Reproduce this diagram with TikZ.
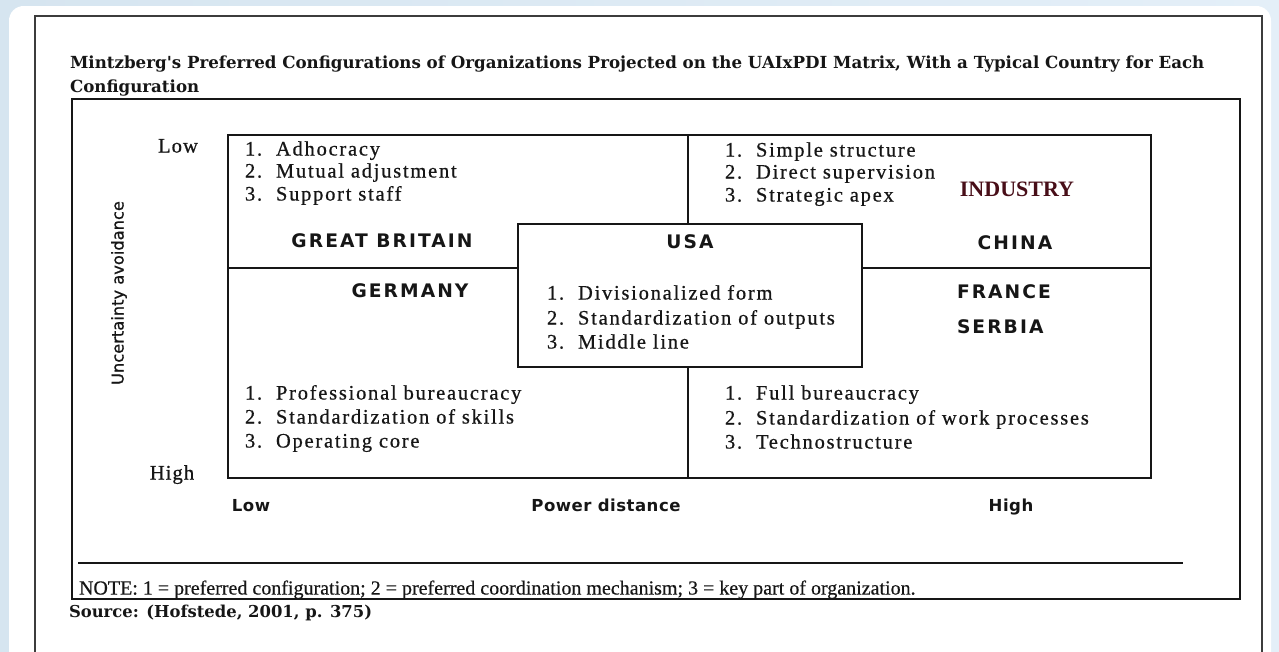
\documentclass[tikz,border=0pt]{standalone}
\usepackage{fontspec}
\setmainfont{Liberation Serif}
\newfontfamily\serifrm{Liberation Serif}
\newfontfamily\slabbf{DejaVu Serif}
\newfontfamily\itemrm{Liberation Serif}[LetterSpace=8.5, FakeBold=0.6]
\newfontfamily\edgerm{Liberation Serif}[LetterSpace=5, FakeBold=0.6]
\newfontfamily\notrm{Liberation Serif}[FakeBold=0.4]
\newfontfamily\capsans{DejaVu Sans}[LetterSpace=11]
\newfontfamily\axissans{DejaVu Sans}[LetterSpace=3]
\newfontfamily\sidesans{DejaVu Sans}[FakeBold=0.8]
\usetikzlibrary{calc}

\definecolor{bgleft}{RGB}{214,229,240}
\definecolor{bgright}{RGB}{228,239,248}
\definecolor{ink}{RGB}{22,22,22}
\definecolor{framegrey}{RGB}{60,60,60}
\definecolor{maroon}{RGB}{72,14,24}

\tikzset{
  txt/.style={inner sep=0pt, outer sep=0pt, text=ink, text height=0.68em, text depth=0pt},
  titletext/.style={txt, anchor=west, font=\slabbf\bfseries\fontsize{12.5pt}{15pt}\selectfont},
  itemtext/.style={txt, anchor=west, font=\itemrm\fontsize{15.4pt}{17pt}\selectfont},
  country/.style={txt, font=\capsans\bfseries\fontsize{14pt}{16pt}\selectfont},
  axislabel/.style={txt, font=\axissans\bfseries\fontsize{12.4pt}{15pt}\selectfont},
  sidelabel/.style={txt, font=\sidesans\fontsize{12.2pt}{15pt}\selectfont},
  lowhigh/.style={txt, font=\edgerm\fontsize{15.5pt}{17pt}\selectfont},
  notetext/.style={txt, anchor=west, font=\notrm\fontsize{15pt}{16pt}\selectfont},
  matrixline/.style={line width=1.5pt, draw=ink},
}
\newcommand{\itm}[2]{\makebox[23.25pt][l]{#1}#2}

\begin{document}
\begin{tikzpicture}[x=0.75pt, y=-0.75pt]
\useasboundingbox (0,0) rectangle (1279,651);
\clip (0,0) rectangle (1279,651);

% backdrop and white card
\fill[left color=bgleft, right color=bgright] (0,0) rectangle (1279,651);
\fill[white, rounded corners=11pt] (9,6) rectangle (1271,700);

% page frame
\draw[line width=1.1pt, draw=framegrey] (35,16) rectangle (1262,700);

% title
\node[titletext] (title1) at (70,64) {Mintzberg's Preferred Configurations of Organizations Projected on the UAIxPDI Matrix, With a Typical Country for Each};
\node[titletext] (title2) at (70,88) {Configuration};

% table frame
\draw[line width=1.5pt, draw=ink] (72,99) rectangle (1240,599);
\draw[line width=2pt, draw=ink] (78,563) -- (1183,563);

% matrix
\coordinate (mTL) at (228,135);
\coordinate (mBR) at (1151,478);
\draw[matrixline] (mTL) rectangle (mBR);
\node[draw=ink, line width=1.5pt, minimum width=258pt, minimum height=107.25pt, inner sep=0pt, fill=white] (usabox) at (690,295.5) {};
\draw[matrixline] (688,135) -- (688,224);
\draw[matrixline] (688,367) -- (688,478);
\draw[matrixline] (228,267.5) -- (518,267.5);
\draw[matrixline] (862,267.5) -- (1151,267.5);

% axes
\node[lowhigh] (uaLow) at (178,148) {Low};
\node[lowhigh] (uaHigh) at (172,475) {High};
\node[sidelabel, rotate=90] (uaName) at (119,293) {Uncertainty avoidance};
\node[axislabel] (pdLow) at (251,507) {Low};
\node[axislabel] (pdName) at (606,507) {Power distance};
\node[axislabel] (pdHigh) at (1011,507) {High};

% countries
\node[country] (gb) at (382,243) {GREAT BRITAIN};
\node[country] (usa) at (690,244) {USA};
\node[country] (china) at (1015,245) {CHINA};
\node[country] (germany) at (410,293) {GERMANY};
\node[country, anchor=west] (france) at (957,294) {FRANCE};
\node[country, anchor=west] (serbia) at (957,329) {SERBIA};
\node[txt, text=maroon, font=\serifrm\bfseries\fontsize{16.5pt}{18pt}\selectfont] (industry) at (1017,192) {INDUSTRY};

% configurations
\node[itemtext] (a1) at (245,151) {\itm{1.}{Adhocracy}};
\node[itemtext] (a2) at (245,173) {\itm{2.}{Mutual adjustment}};
\node[itemtext] (a3) at (245,196) {\itm{3.}{Support staff}};

\node[itemtext] (s1) at (725,152) {\itm{1.}{Simple structure}};
\node[itemtext] (s2) at (725,174) {\itm{2.}{Direct supervision}};
\node[itemtext] (s3) at (725,197) {\itm{3.}{Strategic apex}};

\node[itemtext] (d1) at (547,295) {\itm{1.}{Divisionalized form}};
\node[itemtext] (d2) at (547,320) {\itm{2.}{Standardization of outputs}};
\node[itemtext] (d3) at (547,344) {\itm{3.}{Middle line}};

\node[itemtext] (p1) at (245,395) {\itm{1.}{Professional bureaucracy}};
\node[itemtext] (p2) at (245,419) {\itm{2.}{Standardization of skills}};
\node[itemtext] (p3) at (245,443) {\itm{3.}{Operating core}};

\node[itemtext] (f1) at (725,395) {\itm{1.}{Full bureaucracy}};
\node[itemtext] (f2) at (725,420) {\itm{2.}{Standardization of work processes}};
\node[itemtext] (f3) at (725,444) {\itm{3.}{Technostructure}};

% footnote and source
\node[notetext] (note) at (79,590) {NOTE: 1 = preferred configuration; 2 = preferred coordination mechanism; 3 = key part of organization.};
\node[titletext, font=\slabbf\bfseries\fontsize{12.3pt}{16pt}\selectfont] (source) at (69,613) {Source: (Hofstede, 2001, p. 375)};
\end{tikzpicture}
\end{document}
